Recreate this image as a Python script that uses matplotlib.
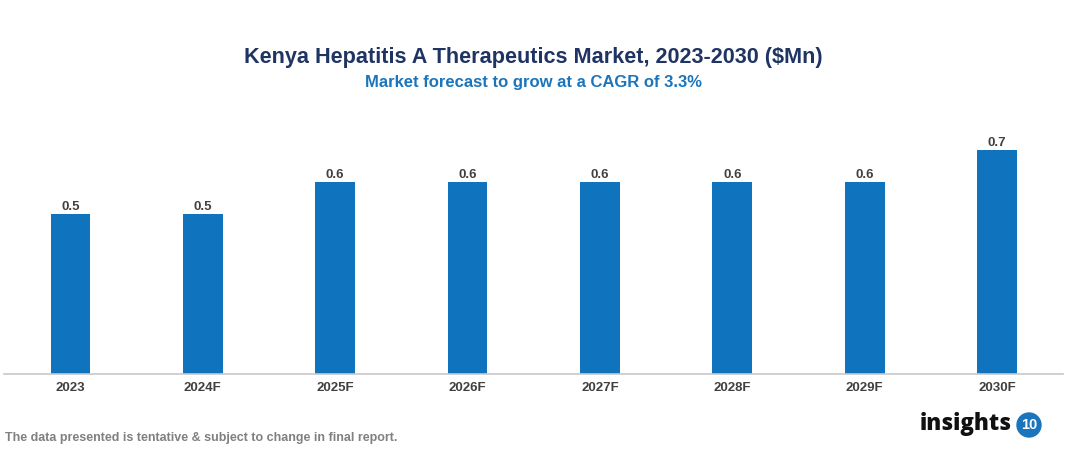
import numpy as np
import matplotlib.pyplot as plt
from matplotlib.patches import Circle

plt.rcParams['font.family'] = ['Liberation Sans', 'DejaVu Sans']

years = ['2023', '2024F', '2025F', '2026F', '2027F', '2028F', '2029F', '2030F']
values = [0.5, 0.5, 0.6, 0.6, 0.6, 0.6, 0.6, 0.7]

fig = plt.figure(figsize=(10.67, 4.54), dpi=100)
ax = fig.add_axes([0.004, 0.1762, 0.9925, 0.5815])

x = np.arange(len(years))
bars = ax.bar(x, values, width=0.3, color='#1073bd', zorder=2)
for b, v in zip(bars, values):
    ax.text(b.get_x() + b.get_width() / 2, v + 0.004, f'{v:.1f}', ha='center', va='bottom',
            fontsize=9.5, fontweight='bold', color='#404040')

ax.set_xlim(-0.5, len(years) - 0.5)
ax.set_ylim(0, 0.825)
ax.set_xticks(x)
ax.set_xticklabels(years, fontsize=9.5, fontweight='bold', color='#404040')
ax.tick_params(axis='x', length=0, pad=6)
ax.set_yticks([])
for s in ['top', 'right', 'left']:
    ax.spines[s].set_visible(False)
ax.spines['bottom'].set_color('#c8c8c8')
ax.spines['bottom'].set_linewidth(1.2)

fig.text(0.5, 1 - 57 / 454, 'Kenya Hepatitis A Therapeutics Market, 2023-2030 ($Mn)', ha='center', va='center',
         fontsize=15.6, fontweight='bold', color='#1f3462')
fig.text(0.5, 1 - 82 / 454, 'Market forecast to grow at a CAGR of 3.3%', ha='center', va='center',
         fontsize=12, fontweight='bold', color='#1b75bc')
fig.text(5 / 1067, 1 - 438 / 454, 'The data presented is tentative & subject to change in final report.',
         ha='left', va='center', fontsize=9, fontweight='bold', color='#808080')

# logo
fig.text(920 / 1067, 1 - 424 / 454, 'insights', ha='left', va='center', fontsize=16,
         fontweight='heavy', color='#111111', family=['Open Sans', 'DejaVu Sans'])
cx, cy = 1029 / 1067, 1 - 425 / 454
circ = Circle((1029, 454 - 425), 12, transform=None, color='#1b75bc', zorder=5)
fig.patches.append(circ)
fig.text(cx, cy, '10', ha='center', va='center', fontsize=10.5, fontweight='bold', color='white', zorder=6)

plt.savefig('out.png', dpi=100)
